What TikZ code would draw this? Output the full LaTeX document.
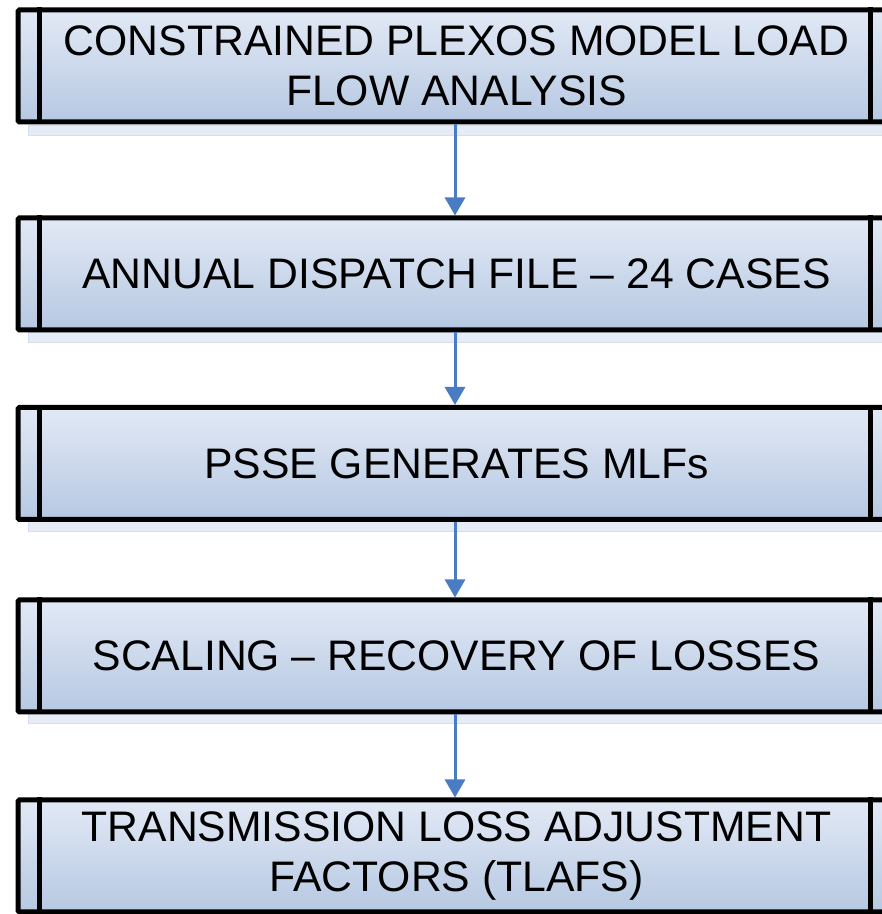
\documentclass[tikz,border=0pt]{standalone}
\usepackage{fontspec}
\setmainfont{Liberation Sans}
\usetikzlibrary{arrows.meta}
\definecolor{boxtop}{HTML}{E2E9F5}
\definecolor{boxbot}{HTML}{B6C8E2}
\definecolor{arrowblue}{HTML}{4A7CC4}
\definecolor{reflect}{HTML}{E6ECF6}
\definecolor{reflectline}{HTML}{D4DEEE}
\tikzset{
  procbox/.style={draw=black, line width=5pt, rounded corners=1.5pt,
    top color=boxtop, bottom color=boxbot,
    minimum width=877pt, minimum height=112pt, inner sep=0pt,
    align=center, font=\fontsize{42.7}{50}\selectfont},
  sideline/.style={line width=5pt, black},
  flow/.style={draw=arrowblue, line width=3pt, -{Triangle[width=20pt,length=18pt]}},
  refl/.style={fill=reflect, draw=reflectline, line width=1pt}
}
\begin{document}
\begin{tikzpicture}[x=1pt,y=1pt]
\useasboundingbox[fill=white] (0,0) rectangle (882,914);
% reflections
\foreach \yb in {122.5,329.5,519,711}{
  \fill[refl] (28,914-\yb-3) rectangle (900,914-\yb-13);
}
\node[procbox] (b1) at (456.5,914-66) {CONSTRAINED PLEXOS MODEL LOAD\\FLOW ANALYSIS};
\node[procbox] (b2) at (456.5,914-274) {ANNUAL DISPATCH FILE -- 24 CASES};
\node[procbox] (b3) at (456.5,914-463.5) {PSSE GENERATES MLFs};
\node[procbox] (b4) at (456.5,914-656) {SCALING -- RECOVERY OF LOSSES};
\node[procbox] (b5) at (456.5,914-856) {TRANSMISSION LOSS ADJUSTMENT\\FACTORS (TLAFS)};
\foreach \b in {b1,b2,b3,b4,b5}{
  \draw[sideline] ([xshift=24pt]\b.north west) -- ([xshift=24pt]\b.south west);
  \draw[sideline] ([xshift=-27pt]\b.north east) -- ([xshift=-27pt]\b.south east);
}
\coordinate (s1) at (455,914-124);
\coordinate (s2) at (455,914-331);
\coordinate (s3) at (455,914-521);
\coordinate (s4) at (455,914-713);
\draw[flow] (b1.south -| s1) -- (b2.north -| s1);
\draw[flow] (b2.south -| s2) -- (b3.north -| s2);
\draw[flow] (b3.south -| s3) -- (b4.north -| s3);
\draw[flow] (b4.south -| s4) -- (b5.north -| s4);
\end{tikzpicture}
\end{document}
